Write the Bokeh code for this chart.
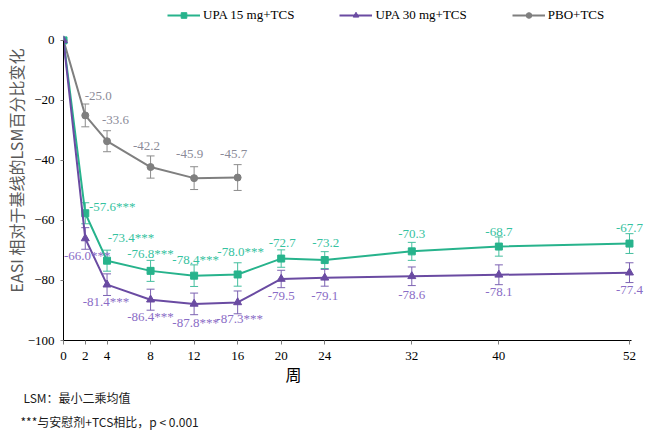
import math
from bokeh.plotting import figure
from bokeh.models import (Range1d, ColumnDataSource, Whisker, TeeHead, Title,
                          Legend, LegendItem, FixedTicker)
from bokeh.embed import file_html
from bokeh.resources import INLINE
from bokeh.core.properties import value

# ---------------- data ----------------
weeks = [0, 2, 4, 8, 12, 16, 20, 24, 32, 40, 52]
pbo_weeks = [0, 2, 4, 8, 12, 16]

upa15 = [0, -57.6, -73.4, -76.8, -78.4, -78.0, -72.7, -73.2, -70.3, -68.7, -67.7]
upa15_se = [0, 3.5, 3.5, 3.5, 3.6, 3.9, 2.9, 2.8, 3.0, 3.2, 3.3]
upa15_sig = [False, True, True, True, True, True, False, False, False, False, False]

upa30 = [0, -66.0, -81.4, -86.4, -87.8, -87.3, -79.5, -79.1, -78.6, -78.1, -77.4]
upa30_se = [0, 3.6, 3.6, 3.5, 3.6, 3.8, 2.9, 2.8, 3.1, 3.3, 3.3]
upa30_sig = [False, True, True, True, True, True, False, False, False, False, False]

pbo = [0, -25.0, -33.6, -42.2, -45.9, -45.7]
pbo_se = [0, 3.8, 3.5, 3.7, 3.8, 4.3]

series_names = ["UPA 15 mg+TCS", "UPA 30 mg+TCS", "PBO+TCS"]
y_ticks = [-100, -80, -60, -40, -20, 0]
x_label = "周"
y_label = "EASI 相对于基线的LSM百分比变化"
footnote1 = "LSM：最小二乘均值"
footnote2 = "***与安慰剂+TCS相比，p < 0.001"

# label offsets (screen px), one per labelled point (weeks > 0)
upa15_dx = [27, 24, 0, 1.5, 3, 1, 1, 0, 0, 0]
upa15_dy = [-7, -23.5, -17, -16, -23, -16, -17, -17, -15, -16]
upa30_dx = [2, -1, 0, 1.5, 2, 0, 0, 0, 0, 0]
upa30_dy = [17, 17, 16.5, 19, 16, 17, 18.5, 18.4, 17.6, 17]
pbo_dx = [13, 8.5, -4, -4.5, -4]
pbo_dy = [-19, -21, -21.5, -24, -24]

# ---------------- styles ----------------
C15, C15_T, C15_E = "#27b38c", "#35c2a0", "#45bf9f"
C30, C30_T, C30_E = "#6a4ba2", "#8a6cc6", "#7c62b2"
CPB, CPB_T, CPB_E = "#7f7f7f", "#8b8b98", "#8c8c8c"
SERIF = "Liberation Serif"
CJK = "Noto Sans CJK SC"

p = figure(width=644, height=430, output_backend="svg", toolbar_location=None,
           x_range=Range1d(0, 53.38), y_range=Range1d(-100, 13.29),
           min_border_left=63, min_border_right=0, min_border_top=0,
           min_border_bottom=89)
p.outline_line_color = None
p.grid.visible = False
p.background_fill_color = "white"

# axes
p.xaxis.ticker = FixedTicker(ticks=weeks)
p.yaxis.ticker = FixedTicker(ticks=y_ticks)
p.yaxis.bounds = (-100, 0)
p.xaxis.bounds = (0, 52.2)
for ax in (p.xaxis, p.yaxis):
    ax.axis_line_color = "black"
    ax.axis_line_width = 1
    ax.minor_tick_line_color = None
    ax.major_label_text_font = SERIF
    ax.major_label_text_font_size = "13px"
    ax.major_label_text_color = "black"
    ax.major_tick_in = 0
    ax.major_tick_line_color = "#7f7f7f"
p.xaxis.major_tick_out = 4
p.xaxis.major_label_standoff = 7
p.yaxis.major_tick_out = 3
p.yaxis.major_label_standoff = 6
p.yaxis.axis_label = y_label
p.yaxis.axis_label_standoff = -3
p.yaxis.axis_label_text_font = CJK
p.yaxis.axis_label_text_font_size = "16px"
p.yaxis.axis_label_text_font_style = "normal"
p.yaxis.axis_label_text_color = "#595959"


def add_series(xs, ys, se, color, tcolor, ecolor, marker, msize, labels, dx, dy, lw=2):
    src = ColumnDataSource(dict(x=xs, y=ys))
    esrc = ColumnDataSource(dict(
        x=xs[1:],
        upper=[v + s for v, s in zip(ys[1:], se[1:])],
        lower=[v - s for v, s in zip(ys[1:], se[1:])]))
    w = Whisker(base="x", upper="upper", lower="lower", source=esrc,
                line_color=ecolor, line_width=1,
                upper_head=TeeHead(size=8, line_color=ecolor, line_width=1),
                lower_head=TeeHead(size=8, line_color=ecolor, line_width=1))
    p.add_layout(w)
    lr = p.line("x", "y", source=src, line_color=color, line_width=lw)
    sr = p.scatter("x", "y", source=src, marker=marker, size=msize,
                   fill_color=color, line_color=color)
    tsrc = ColumnDataSource(dict(x=xs[1:], y=ys[1:], t=labels, dx=dx, dy=dy))
    p.text("x", "y", text="t", source=tsrc, x_offset="dx", y_offset="dy",
           text_align="center", text_baseline="middle",
           text_font=value(SERIF), text_font_size="13px", text_color=tcolor)
    return [lr, sr]


lab15 = [f"{v:.1f}" + ("***" if s else "") for v, s in zip(upa15[1:], upa15_sig[1:])]
lab30 = [f"{v:.1f}" + ("***" if s else "") for v, s in zip(upa30[1:], upa30_sig[1:])]
labpb = [f"{v:.1f}" for v in pbo[1:]]

r_pb = add_series(pbo_weeks, pbo, pbo_se, CPB, CPB_T, CPB_E, "circle", 7, labpb, pbo_dx, pbo_dy)
r_15 = add_series(weeks, upa15, upa15_se, C15, C15_T, C15_E, "square", 7, lab15, upa15_dx, upa15_dy)
r_30 = add_series(weeks, upa30, upa30_se, C30, C30_T, C30_E, "triangle", 8, lab30, upa30_dx, upa30_dy)

legend = Legend(items=[LegendItem(label=series_names[0], renderers=r_15),
                       LegendItem(label=series_names[1], renderers=r_30),
                       LegendItem(label=series_names[2], renderers=r_pb)],
                orientation="horizontal", location=(104, 317),
                padding=0, margin=0, spacing=45, glyph_width=33, glyph_height=14,
                label_height=14, label_standoff=3,
                label_text_font=SERIF, label_text_font_size="13px",
                label_text_color="black", border_line_color=None,
                background_fill_alpha=0)
p.add_layout(legend, "center")

# x-axis title and footnotes below the axis
p.add_layout(Title(text=x_label, align="left", offset=222, standoff=-5,
                   text_font=CJK, text_font_size="16px", text_font_style="normal",
                   text_color="black"), "below")
p.add_layout(Title(text=footnote1, align="left", offset=-40, standoff=7,
                   text_font=CJK, text_font_size="12px", text_font_style="normal",
                   text_color="#1a1a1a"), "below")
p.add_layout(Title(text=footnote2, align="left", offset=-43, standoff=2,
                   text_font=CJK, text_font_size="12px", text_font_style="normal",
                   text_color="#1a1a1a"), "below")

open("out.html", "w").write(file_html(p, INLINE))
